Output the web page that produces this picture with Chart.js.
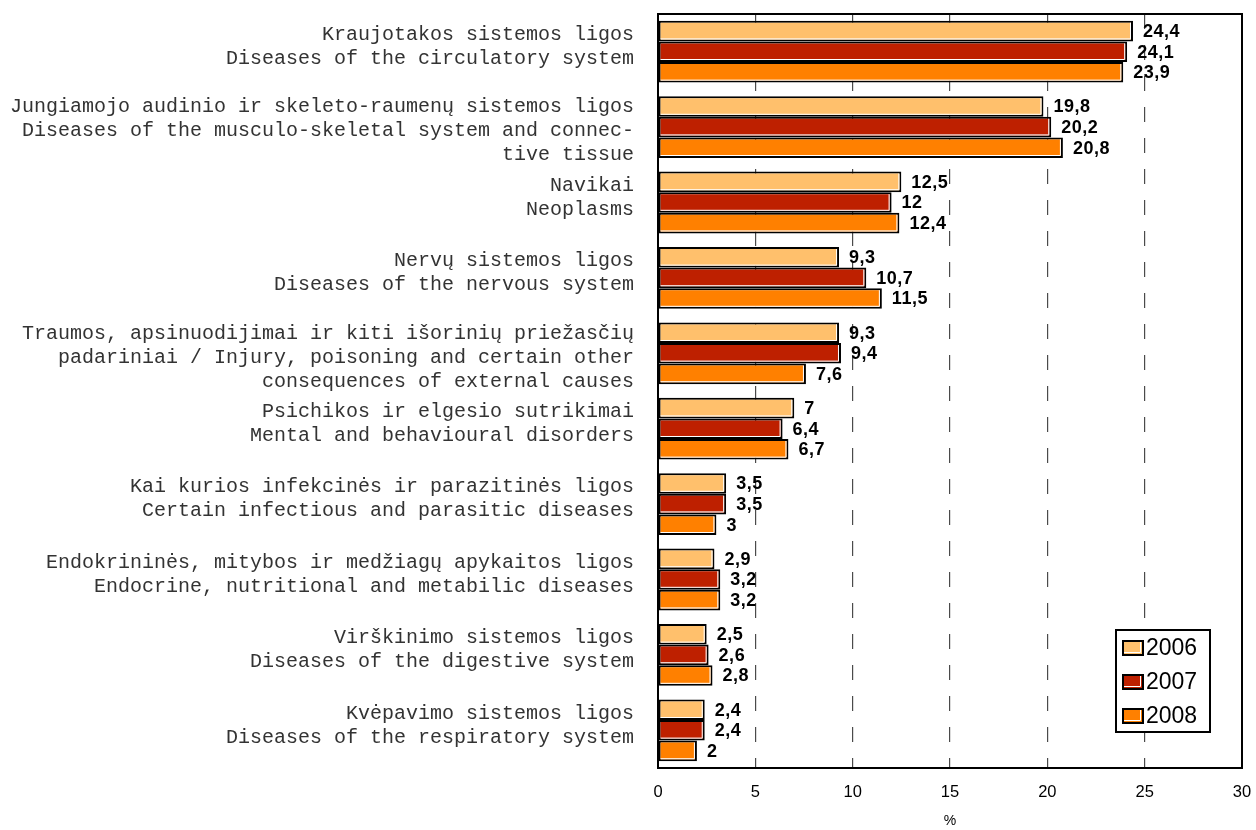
<!DOCTYPE html>
<html>
<head>
<meta charset="utf-8">
<script src="https://cdn.jsdelivr.net/npm/chart.js@4/dist/chart.umd.min.js"></script>
<style>
  html, body { margin: 0; padding: 0; background: #fff; }
</style>
</head>
<body>
<canvas id="chart" width="1256" height="830"></canvas>
<script>
const categories = [
    ['Kraujotakos sistemos ligos', 'Diseases of the circulatory system'],
    ['Jungiamojo audinio ir skeleto-raumenų sistemos ligos', 'Diseases of the musculo-skeletal system and connec-', 'tive tissue'],
    ['Navikai', 'Neoplasms'],
    ['Nervų sistemos ligos', 'Diseases of the nervous system'],
    ['Traumos, apsinuodijimai ir kiti išorinių priežasčių', 'padariniai / Injury, poisoning and certain other', 'consequences of external causes'],
    ['Psichikos ir elgesio sutrikimai', 'Mental and behavioural disorders'],
    ['Kai kurios infekcinės ir parazitinės ligos', 'Certain infectious and parasitic diseases'],
    ['Endokrininės, mitybos ir medžiagų apykaitos ligos', 'Endocrine, nutritional and metabilic diseases'],
    ['Virškinimo sistemos ligos', 'Diseases of the digestive system'],
    ['Kvėpavimo sistemos ligos', 'Diseases of the respiratory system']
];
const years = ['2006', '2007', '2008'];
const values2006 = [24.4, 19.8, 12.5, 9.3, 9.3, 7, 3.5, 2.9, 2.5, 2.4];
const values2007 = [24.1, 20.2, 12, 10.7, 9.4, 6.4, 3.5, 3.2, 2.6, 2.4];
const values2008 = [23.9, 20.8, 12.4, 11.5, 7.6, 6.7, 3, 3.2, 2.8, 2];
const xTicks = [0, 5, 10, 15, 20, 25, 30];
const axisTitle = '%';

const barColors = ['#FFC06C', '#BE2000', '#FF8000'];
const sansFont = '"Liberation Sans", Arial, sans-serif';
const monoFont = '"Liberation Mono", "Courier New", monospace';

const ctx = document.getElementById('chart').getContext('2d');

// white inner line + value labels
const barDecor = {
    id: 'barDecor',
    afterDatasetsDraw(chart) {
        const c = chart.ctx;
        c.save();
        chart.data.datasets.forEach((ds, i) => {
            const meta = chart.getDatasetMeta(i);
            meta.data.forEach((bar, j) => {
                const left = bar.base;
                const right = bar.x;
                const top = bar.y - bar.height / 2;
                const bottom = bar.y + bar.height / 2;
                c.strokeStyle = '#fff';
                c.lineWidth = 1;
                c.beginPath();
                c.moveTo(left + 2, bottom - 2.5);
                c.lineTo(right - 2.5, bottom - 2.5);
                c.lineTo(right - 2.5, top + 2);
                c.stroke();

                c.fillStyle = '#000';
                c.font = 'bold 18px ' + sansFont;
                c.letterSpacing = '0.5px';
                c.textBaseline = 'middle';
                c.textAlign = 'left';
                c.fillText(String(ds.data[j]).replace('.', ','), right + 10, bar.y + 1);
            });
        });
        c.restore();
    }
};

// nudge the y labels like the original (2-line up, 3-line down)
const labelNudge = {
    id: 'labelNudge',
    beforeDraw(chart) {
        const scale = chart.scales.y;
        const items = scale.getLabelItems(chart.chartArea);
        if (items._nudged) return;
        items.forEach(item => {
            const lines = Array.isArray(item.label) ? item.label.length : 1;
            item.options.translation[1] += lines === 3 ? 4 : -5;
        });
        items._nudged = true;
    }
};

const frameAndLegend = {
    id: 'frameAndLegend',
    afterDraw(chart) {
        const c = chart.ctx;
        const a = chart.chartArea;
        c.save();
        c.strokeStyle = '#000';
        c.lineWidth = 2;
        c.strokeRect(a.left, a.top, a.right - a.left, a.bottom - a.top);

        // legend box
        const lx = 1116, ly = 630, lw = 94, lh = 102;
        c.fillStyle = '#fff';
        c.fillRect(lx, ly, lw, lh);
        c.strokeRect(lx, ly, lw, lh);
        chart.data.datasets.forEach((ds, i) => {
            const y = ly + 18 + i * 34;
            c.fillStyle = ds.backgroundColor;
            c.fillRect(lx + 7, y - 7, 20, 14);
            c.strokeStyle = '#fff';
            c.lineWidth = 1;
            c.beginPath();
            c.moveTo(lx + 8, y + 4.5);
            c.lineTo(lx + 24.5, y + 4.5);
            c.lineTo(lx + 24.5, y - 6);
            c.stroke();
            c.strokeStyle = '#000';
            c.lineWidth = 2;
            c.strokeRect(lx + 7, y - 7, 20, 14);
            c.fillStyle = '#000';
            c.font = '23px ' + sansFont;
            c.textBaseline = 'middle';
            c.textAlign = 'left';
            c.fillText(ds.label, lx + 30, y + 1);
        });
        c.restore();
    }
};

const chart = new Chart(ctx, {
    type: 'bar',
    data: {
        labels: categories,
        datasets: [
            { label: years[0], data: values2006, backgroundColor: barColors[0] },
            { label: years[1], data: values2007, backgroundColor: barColors[1] },
            { label: years[2], data: values2008, backgroundColor: barColors[2] }
        ]
    },
    options: {
        indexAxis: 'y',
        responsive: false,
        animation: false,
        layout: { padding: { top: 14, right: 14, bottom: 0, left: 0 } },
        datasets: {
            bar: {
                borderColor: '#000',
                borderWidth: 2,
                borderSkipped: false,
                categoryPercentage: 0.82,
                barPercentage: 1
            }
        },
        plugins: {
            legend: { display: false },
            tooltip: { enabled: false }
        },
        scales: {
            x: {
                min: 0,
                max: 30,
                afterBuildTicks: scale => {
                    scale.ticks = xTicks.map(v => ({ value: v }));
                },
                afterFit: scale => {
                    scale.height = 62;
                    scale.paddingLeft = 0;
                    scale.paddingRight = 0;
                },
                grid: {
                    drawTicks: false,
                    color: c => (c.tick && (c.tick.value === 0 || c.tick.value === 30)) ? 'rgba(0,0,0,0)' : '#4a4a4a',
                    lineWidth: 1.2
                },
                border: { display: false, dash: [15, 16] },
                ticks: {
                    padding: 15,
                    color: '#000',
                    font: { family: sansFont, size: 16.5 }
                },
                title: {
                    display: true,
                    text: axisTitle,
                    color: '#000',
                    font: { family: sansFont, size: 14 },
                    padding: { top: 0, bottom: 0 }
                }
            },
            y: {
                afterFit: scale => {
                    scale.width = 658;
                    scale.paddingTop = 0;
                    scale.paddingBottom = 0;
                },
                grid: { display: false, drawTicks: false },
                border: { display: false },
                ticks: {
                    autoSkip: false,
                    padding: 24,
                    color: '#333',
                    font: { family: monoFont, size: 20, lineHeight: 1.2 }
                }
            }
        }
    },
    plugins: [labelNudge, barDecor, frameAndLegend]
});
</script>
</body>
</html>
